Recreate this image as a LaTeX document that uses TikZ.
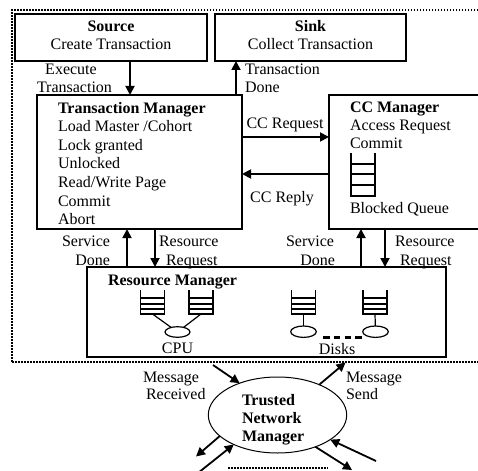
\documentclass[tikz,border=0pt]{standalone}
\usepackage{fontspec}
\setmainfont{Liberation Serif}
\usetikzlibrary{arrows.meta,shapes.geometric}
\begin{document}
\begin{tikzpicture}[x=1pt,y=-1pt,
  every node/.style={font=\fontsize{16}{18.5}\selectfont, inner sep=0pt, outer sep=0pt},
  bld/.style={font=\fontsize{16}{18.5}\selectfont\bfseries},
  box/.style={draw, line width=2.2pt, rectangle, anchor=north west},
  arr/.style={line width=1.8pt, -{Triangle[length=9pt,width=9pt]}},
  thin/.style={line width=1.2pt},
  dotline/.style={line width=2pt, dash pattern=on 1.5pt off 1.5pt},
  txt/.style={anchor=base},
  txtw/.style={anchor=base west},
  txte/.style={anchor=base east},
  rmq/.pic={
    \draw[thin] (-12,-24) -- (-12,0) -- (12,0) -- (12,-24);
    \foreach \h in {-16,-10,-5} \draw[thin] (-12,\h) -- (12,\h);
    \coordinate (-b) at (0,0);
  }
]
\useasboundingbox (0,0) rectangle (478,470);
\clip (0,0) rectangle (478,470);

% dotted frame around the local site
\node[draw, dotline, anchor=north west, minimum width=480pt, minimum height=352pt] (frame) at (12,10) {};

% boxes
\node[box, minimum width=192pt, minimum height=47pt] (src) at (15,14) {};
\node[box, minimum width=191pt, minimum height=47pt] (snk) at (215,14) {};
\node[box, minimum width=205pt, minimum height=134pt] (tm) at (37,95) {};
\node[box, minimum width=160pt, minimum height=134pt] (cc) at (329,95) {};
\node[box, minimum width=359pt, minimum height=90pt] (rm) at (87,267) {};

% box texts
\node[txt,bld] (srcT) at (111,32) {Source};
\node[txt] (srcS) at (111,50) {Create Transaction};
\node[txt,bld] (snkT) at (310.5,32) {Sink};
\node[txt] (snkS) at (310.5,50) {Collect Transaction};

\node[txtw,bld] (tm0) at (58,113.5) {Transaction Manager};
\node[txtw] (tm1) at (58,132) {Load Master /Cohort};
\node[txtw] (tm2) at (58,150.5) {Lock granted};
\node[txtw] (tm3) at (58,169) {Unlocked};
\node[txtw] (tm4) at (58,187.5) {Read/Write Page};
\node[txtw] (tm5) at (58,206) {Commit};
\node[txtw] (tm6) at (58,224.5) {Abort};

\node[txtw,bld] (cc0) at (350,113) {CC Manager};
\node[txtw] (cc1) at (350,131) {Access Request};
\node[txtw] (cc2) at (350,149) {Commit};
\node[txtw] (cc3) at (350,213) {Blocked Queue};

\node[txtw,bld] (rmT) at (108,285) {Resource Manager};

% connector columns and rows
\coordinate (c1) at (130,0);
\coordinate (c2) at (236,0);
\coordinate (c3) at (127,0);
\coordinate (c4) at (155,0);
\coordinate (c5) at (361,0);
\coordinate (c6) at (385,0);
\coordinate (r1) at (0,137);
\coordinate (r2) at (0,174);

\draw[arr] (src.south -| c1) -- (tm.north -| c1);
\draw[arr] (tm.north -| c2) -- (snk.south -| c2);
\draw[arr] (tm.east |- r1) -- (cc.west |- r1);
\draw[arr] (cc.west |- r2) -- (tm.east |- r2);
\draw[arr] (rm.north -| c3) -- (tm.south -| c3);
\draw[arr] (tm.south -| c4) -- (rm.north -| c4);
\draw[arr] (rm.north -| c5) -- (cc.south -| c5);
\draw[arr] (cc.south -| c6) -- (rm.north -| c6);

% connector labels
\node[txt] (ex1) at (71,75) {Execute};
\node[txt] (ex2) at (74.5,93) {Transaction};
\node[txtw] (td1) at (245,75) {Transaction};
\node[txtw] (td2) at (245,93) {Done};
\node[txt] (ccq) at (285,128.5) {CC Request};
\node[txt] (ccr) at (282,202) {CC Reply};
\node[txte] (sd1) at (110,246) {Service};
\node[txte] (sd2) at (110,265) {Done};
\node[txtw] (rr1) at (159,246) {Resource};
\node[txtw] (rr2) at (166,265) {Request};
\node[txte] (sd3) at (334,246) {Service};
\node[txte] (sd4) at (335,265) {Done};
\node[txtw] (rr3) at (395,246) {Resource};
\node[txtw] (rr4) at (400,265) {Request};

% CC blocked queue
\draw[thin] (351,153) -- (351,196) -- (375,196) -- (375,153);
\foreach \h in {164,174,185} \draw[thin] (351,\h) -- (375,\h);

% resource queues, CPU and disks
\pic (q1) at (152.5,314) {rmq};
\pic (q2) at (201,314) {rmq};
\pic (q3) at (303.5,314) {rmq};
\pic (q4) at (375,314) {rmq};
\node[ellipse, draw, thin, minimum width=25pt, minimum height=10.6pt] (cpu) at (177.5,332) {};
\node[ellipse, draw, thin, minimum width=25.6pt, minimum height=11.4pt] (dk1) at (303.5,331.7) {};
\node[ellipse, draw, thin, minimum width=25.6pt, minimum height=11.4pt] (dk2) at (375.5,331.7) {};
\draw[thin] (q1-b) -- (cpu);
\draw[thin] (q2-b) -- (cpu);
\draw[thin] (q3-b) -- (dk1);
\draw[thin] (q4-b) -- (dk2);
\draw[line width=2.6pt, dash pattern=on 6.5pt off 4.3pt] (323,337.3) -- (362,337.3);
\node[txt] (cpuT) at (177.5,353.5) {CPU};
\node[txt] (dskT) at (337,354) {Disks};

% trusted network manager
\node[ellipse, draw, line width=1pt, minimum width=138.4pt, minimum height=76pt] (tnm) at (277.5,415) {};
\node[txtw,bld] (tn1) at (242,405) {Trusted};
\node[txtw,bld] (tn2) at (242,423) {Network};
\node[txtw,bld] (tn3) at (242,441) {Manager};

\coordinate (mrT) at (213,365);
\coordinate (msT) at (345.5,362.5);
\coordinate (blO) at (196,456.5);
\coordinate (blI) at (198,473);
\coordinate (brI) at (376,461);
\coordinate (brO) at (352,470);
\draw[arr] (mrT) -- (tnm.140);
\draw[arr] (tnm.36) -- (msT);
\draw[arr] (tnm.200) -- (blO);
\draw[arr] (blI) -- (tnm.214);
\draw[arr] (brI) -- (tnm.335.7);
\draw[arr] (tnm.320) -- (brO);

\node[txtw] (mr1) at (143,382) {Message};
\node[txtw] (mr2) at (146,399) {Received};
\node[txtw] (ms1) at (346,382) {Message};
\node[txtw] (ms2) at (346,399.5) {Send};

% top edge of the neighbouring site
\draw[dotline] (228,467.5) -- (328,467.5);
\end{tikzpicture}
\end{document}
